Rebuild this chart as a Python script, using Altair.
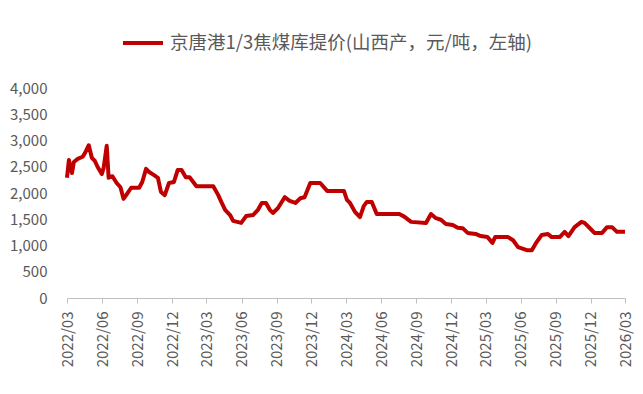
import altair as alt
import pandas as pd

series_name = "京唐港1/3焦煤库提价(山西产，元/吨，左轴)"

dates = [
    "2022-03-01", "2022-03-06", "2022-03-14", "2022-03-19", "2022-03-29", "2022-04-11",
    "2022-04-17", "2022-04-27", "2022-05-05", "2022-05-13", "2022-05-20", "2022-05-31",
    "2022-06-05", "2022-06-13", "2022-06-18", "2022-06-28", "2022-07-09", "2022-07-19",
    "2022-07-27", "2022-08-03", "2022-08-16", "2022-09-06", "2022-09-14", "2022-09-24",
    "2022-10-02", "2022-10-15", "2022-10-25", "2022-11-02", "2022-11-12", "2022-11-23",
    "2022-12-06", "2022-12-16", "2022-12-26", "2023-01-06", "2023-01-16", "2023-02-03",
    "2023-03-19", "2023-04-01", "2023-04-09", "2023-04-19", "2023-05-02", "2023-05-10",
    "2023-05-31", "2023-06-13", "2023-07-01", "2023-07-14", "2023-07-24", "2023-08-04",
    "2023-08-14", "2023-08-22", "2023-09-04", "2023-09-22", "2023-10-05", "2023-10-20",
    "2023-11-02", "2023-11-13", "2023-11-28", "2023-12-24", "2024-01-11", "2024-02-24",
    "2024-03-03", "2024-03-11", "2024-03-24", "2024-04-06", "2024-04-16", "2024-04-24",
    "2024-05-07", "2024-05-20", "2024-07-18", "2024-07-31", "2024-08-18", "2024-09-26",
    "2024-10-09", "2024-10-22", "2024-11-04", "2024-11-17", "2024-12-05", "2024-12-18",
    "2024-12-31", "2025-01-13", "2025-02-03", "2025-02-16", "2025-03-06", "2025-03-19",
    "2025-03-26", "2025-04-29", "2025-05-12", "2025-05-25", "2025-06-17", "2025-06-30",
    "2025-07-13", "2025-07-26", "2025-08-11", "2025-08-21", "2025-09-11", "2025-09-24",
    "2025-10-04", "2025-10-20", "2025-11-07", "2025-11-15", "2025-12-03", "2025-12-11",
    "2025-12-31", "2026-01-13", "2026-01-26", "2026-02-08", "2026-03-01",
]

prices = [
    2290, 2630, 2380, 2590, 2650, 2690,
    2760, 2910, 2670, 2610, 2500, 2360,
    2480, 2900, 2290, 2320, 2190, 2110,
    1890, 1960, 2100, 2100, 2210, 2460,
    2400, 2340, 2290, 2020, 1960, 2190,
    2210, 2440, 2440, 2300, 2300, 2130,
    2130, 1960, 1830, 1680, 1580, 1470,
    1430, 1560, 1580, 1680, 1810, 1810,
    1680, 1620, 1710, 1920, 1850, 1810,
    1900, 1920, 2190, 2190, 2040, 2040,
    1870, 1810, 1640, 1540, 1750, 1830,
    1830, 1600, 1600, 1550, 1450, 1430,
    1600, 1520, 1490, 1410, 1390, 1340,
    1330, 1240, 1220, 1180, 1160, 1050,
    1160, 1160, 1100, 970, 910, 910,
    1070, 1200, 1220, 1160, 1160, 1260,
    1180, 1350, 1450, 1430, 1300, 1240,
    1240, 1350, 1350, 1260, 1260,
]

y_ticks = [0, 500, 1000, 1500, 2000, 2500, 3000, 3500, 4000]
x_tick_dates = [
    "2022-03-01", "2022-06-01", "2022-09-01", "2022-12-01",
    "2023-03-01", "2023-06-01", "2023-09-01", "2023-12-01",
    "2024-03-01", "2024-06-01", "2024-09-01", "2024-12-01",
    "2025-03-01", "2025-06-01", "2025-09-01", "2025-12-01",
    "2026-03-01",
]

df = pd.DataFrame({"date": dates, "price": prices, "series": series_name})

FONT = "Noto Sans CJK SC"
GRAY = "#595959"

x_values = [
    alt.DateTime(year=int(d[:4]), month=int(d[5:7]), date=1) for d in x_tick_dates
]

chart = (
    alt.Chart(df)
    .mark_line(strokeWidth=4, strokeJoin="round")
    .encode(
        x=alt.X(
            "date:T",
            scale=alt.Scale(
                domain=[
                    alt.DateTime(year=2022, month=3, date=1),
                    alt.DateTime(year=2026, month=3, date=1),
                ]
            ),
            axis=alt.Axis(
                title=None,
                values=x_values,
                format="%Y/%m",
                labelAngle=270,
                labelFont=FONT,
                labelFontSize=15,
                labelColor=GRAY,
                labelPadding=8,
                domainColor="#BFBFBF",
                tickColor="#BFBFBF",
                tickSize=5,
                grid=False,
                labelOverlap=False,
            ),
        ),
        y=alt.Y(
            "price:Q",
            scale=alt.Scale(domain=[0, 4000]),
            axis=alt.Axis(
                title=None,
                values=y_ticks,
                format=",.0f",
                labelFont=FONT,
                labelFontSize=15,
                labelColor=GRAY,
                labelPadding=20,
                domain=False,
                ticks=False,
                grid=False,
            ),
        ),
        color=alt.Color(
            "series:N",
            scale=alt.Scale(domain=[series_name], range=["#C00000"]),
            legend=alt.Legend(
                title=None,
                orient="none",
                legendX=54,
                legendY=-67,
                symbolType="stroke",
                symbolSize=1600,
                symbolStrokeWidth=4,
                labelFont=FONT,
                labelFontSize=18.5,
                labelColor=GRAY,
                labelOffset=5,
                padding=0,
                labelLimit=600,
            ),
        ),
    )
    .properties(
        width=558,
        height=210,
        autosize=alt.AutoSizeParams(type="none"),
        padding={"left": 59, "top": 80, "right": 10, "bottom": 80},
    )
    .configure_view(stroke=None)
)

chart.save("out.html", embed_options={"renderer": "svg", "actions": False})
